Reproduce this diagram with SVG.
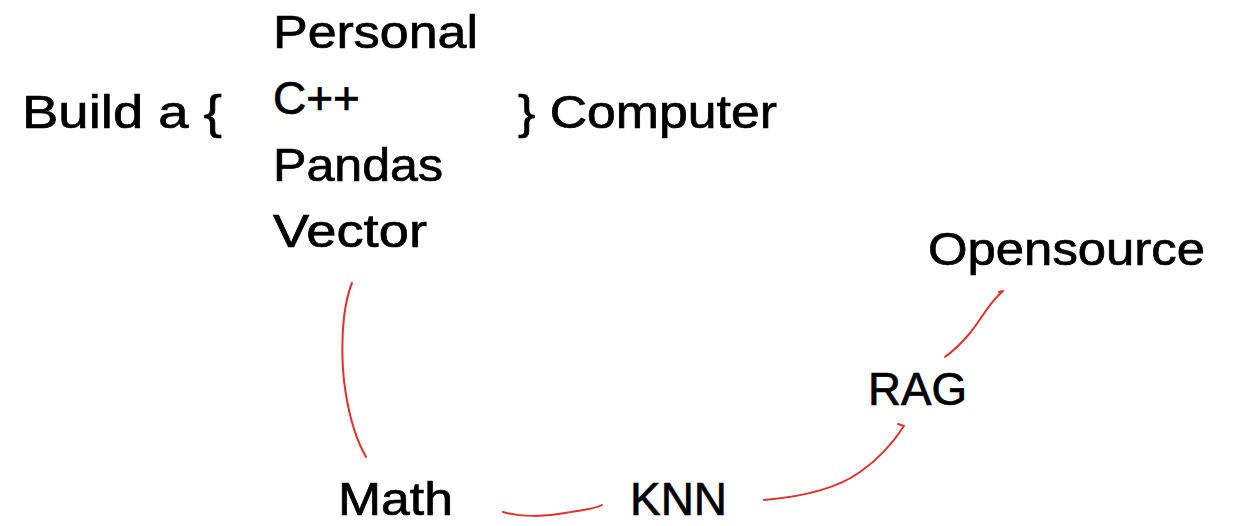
<svg xmlns="http://www.w3.org/2000/svg" width="1238" height="526" viewBox="0 0 1238 526">
  <style>
    .t { font-family: "Liberation Sans", "Noto Sans", sans-serif; font-size: 47px; fill: #000000; stroke: #000000; stroke-width: 0.7; }
    .c { fill: none; stroke: #e03131; stroke-width: 2; stroke-linecap: round; stroke-linejoin: round; }
  </style>
  <rect width="1238" height="526" fill="#ffffff"/>
  <g id="build"><text class="t" x="22" y="128" textLength="200" lengthAdjust="spacingAndGlyphs">Build a {</text></g>
  <g id="personal"><text class="t" x="273" y="48" textLength="205" lengthAdjust="spacingAndGlyphs">Personal</text></g>
  <g id="cpp"><text class="t" x="273" y="114" textLength="87" lengthAdjust="spacingAndGlyphs">C++</text></g>
  <g id="pandas"><text class="t" x="273" y="181" textLength="170" lengthAdjust="spacingAndGlyphs">Pandas</text></g>
  <g id="vector"><text class="t" x="273" y="247" textLength="154" lengthAdjust="spacingAndGlyphs">Vector</text></g>
  <g id="computer"><text class="t" x="518" y="128" textLength="259" lengthAdjust="spacingAndGlyphs">} Computer</text></g>
  <g id="opensource"><text class="t" x="928" y="265" textLength="277" lengthAdjust="spacingAndGlyphs">Opensource</text></g>
  <g id="rag"><text class="t" x="868" y="405" textLength="99" lengthAdjust="spacingAndGlyphs">RAG</text></g>
  <g id="math"><text class="t" x="338" y="515" textLength="115" lengthAdjust="spacingAndGlyphs">Math</text></g>
  <g id="knn"><text class="t" x="630" y="515" textLength="97" lengthAdjust="spacingAndGlyphs">KNN</text></g>
  <g id="connectors">
    <path class="c" d="M352,283 C341,310 340,360 346,395 C351,425 358,443 366,457"/>
    <path class="c" d="M503,512 C520,517 545,517 565,513 C582,510 595,509 602,505"/>
    <path class="c" d="M764,500 C800,497 835,490 860,472 C880,458 893,443 904,426 L898,424"/>
    <path class="c" d="M945,357 C965,342 975,327 985,312 C992,302 997,296 1003,291 L999,292"/>
  </g>
</svg>
